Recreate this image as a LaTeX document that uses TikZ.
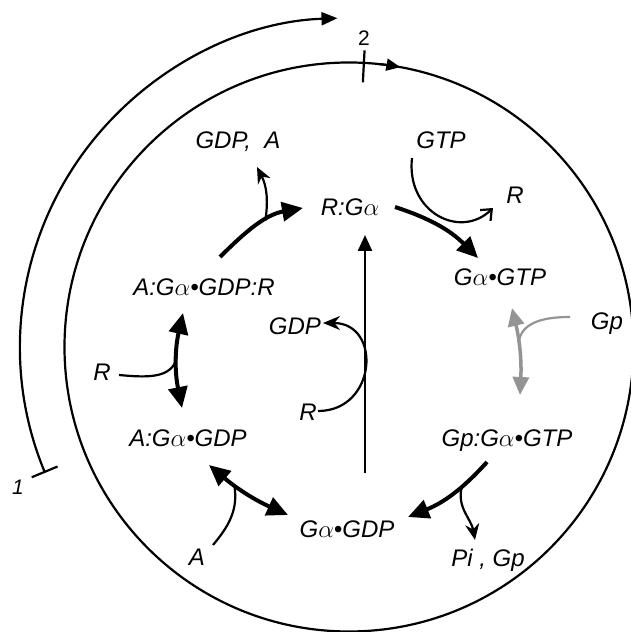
\documentclass[tikz,border=0pt]{standalone}
\usepackage{fontspec}
\setmainfont{Liberation Sans}
\usetikzlibrary{arrows.meta}
\begin{document}
\begin{tikzpicture}[x=1pt,y=1pt,line width=2.2pt,
  lbl/.style={inner sep=0pt,text height=17pt,text depth=0pt,font=\fontsize{24}{28}\selectfont\itshape},
  num/.style={inner sep=0pt,font=\fontsize{21}{24}\selectfont},
  rxn/.style={line width=4pt,-{Triangle[length=21pt,width=19pt]}},
  rxnboth/.style={line width=4pt,{Triangle[length=21pt,width=19pt]}-{Triangle[length=21pt,width=19pt]}},
  branch/.style={line width=2.2pt,-{Stealth[length=16pt,width=14pt]}},
  greyrxn/.style={draw=black!42,line width=3.5pt,{Triangle[length=18pt,width=16pt]}-{Triangle[length=18pt,width=16pt]}}]
\useasboundingbox (0,0) rectangle (631,632);
\coordinate (cen) at (349,285);
\draw (cen) circle[radius=284.5];
\draw[-{Triangle[length=14pt,width=12pt]}] ([shift={(84:284.5)}]cen) arc[start angle=84,end angle=79.6,radius=284.5];
\draw ([shift={(87:265)}]cen) -- ([shift={(87:297)}]cen);
\draw[{Bar[width=28pt]}-{Triangle[length=16pt,width=13pt]}] ([shift={(202.5:329)}]cen) arc[start angle=202.5,end angle=92,radius=329];
\node[num] (two) at (364,594) {2};
\node[num,font=\fontsize{21}{24}\selectfont\itshape] (one) at (18,145) {1};

\node[lbl] (gdpA) at (238,492) {GDP,\ \ A};
\node[lbl] (gtp) at (441,492) {GTP};
\node[lbl] (rTop) at (515,437) {R};
\node[lbl] (rga) at (350,425) {R:G$\alpha$};
\node[lbl] (gagtp) at (500,355) {G$\alpha$\textbullet GTP};
\node[lbl] (aggr) at (204,345) {A:G$\alpha$\textbullet GDP:R};
\node[lbl] (gdp) at (295,306) {GDP};
\node[lbl] (gp) at (607,311) {Gp};
\node[lbl] (rLeft) at (102,260) {R};
\node[lbl] (rMid) at (308,220) {R};
\node[lbl] (aggd) at (188,194) {A:G$\alpha$\textbullet GDP};
\node[lbl] (gpgg) at (507,194) {Gp:G$\alpha$\textbullet GTP};
\node[lbl] (gagdp) at (347,103) {G$\alpha$\textbullet GDP};
\node[lbl] (aBot) at (197,75) {A};
\node[lbl] (piGp) at (488,74) {Pi , Gp};

\draw[rxn] ([shift={(16,30)}]aggr.center) to[out=45,in=190] coordinate[pos=0.6] (jA) ([shift={(-47,-1)}]rga.center);
\draw[branch] (jA) to[out=82,in=-63] ([shift={(19,-27)}]gdpA.center);
\draw[rxn] ([shift={(45,0)}]rga.center) to[out=-18,in=135] ([shift={(-22,19)}]gagtp.center);
\draw[-{Straight Barb[length=9pt,width=15pt]}] ([shift={(-29,-18)}]gtp.center) .. controls +(-6,-54) and +(-33,-32) .. ([shift={(-22,-13)}]rTop.center);
\draw[greyrxn] ([shift={(12,-31)}]gagtp.center) to[bend left=8] coordinate[pos=0.4] (jG) ([shift={(13,43)}]gpgg.center);
\draw[draw=black!42,line width=2.2pt] ([shift={(-37,4)}]gp.center) to[out=180,in=85] (jG);
\draw[rxn] ([shift={(-20,-24)}]gpgg.center) to[out=228,in=22] coordinate[pos=0.35] (jC) ([shift={(61,12)}]gagdp.center);
\draw[branch] (jC) to[out=-105,in=100] ([shift={(-13,18)}]piGp.center);
\draw[rxnboth] ([shift={(21,-27)}]aggd.center) to[bend right=8] coordinate[pos=0.33] (jD) ([shift={(-59,14)}]gagdp.center);
\draw (aBot.center) ++(16,12) to[out=50,in=-80] (jD);
\draw[rxnboth] ([shift={(-21,-26)}]aggr.center) to[bend right=12] coordinate[pos=0.46] (jE) ([shift={(-6,30)}]aggd.center);
\draw ([shift={(17,-3)}]rLeft.center) to[out=-5,in=-100] (jE);
\draw[line width=2.5pt,-{Triangle[length=16pt,width=14pt]}] ([shift={(18,56)}]gagdp.center) -- ([shift={(15,-28)}]rga.center);
\draw[branch,-{Stealth[length=17pt,width=14pt]}] ([shift={(10,1)}]rMid.center) .. controls +(59,0) and +(59,0) .. ([shift={(28,3)}]gdp.center);
\end{tikzpicture}
\end{document}
